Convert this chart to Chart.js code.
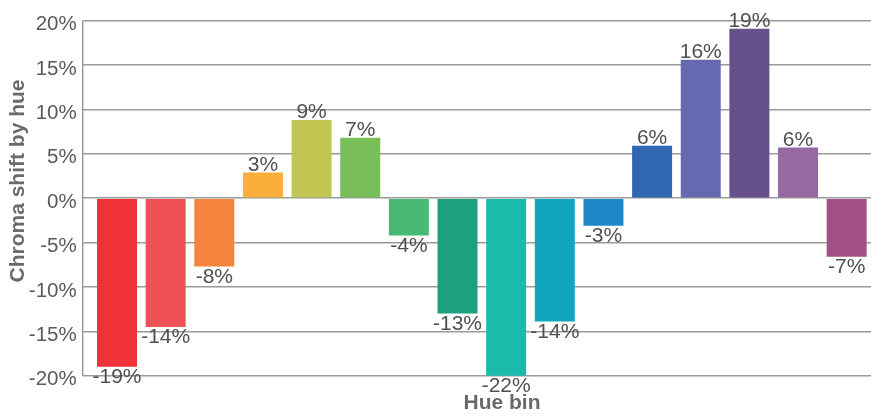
<!DOCTYPE html>
<html>
<head>
<meta charset="utf-8">
<script src="https://cdn.jsdelivr.net/npm/chart.js@4"></script>
<style>
html,body{margin:0;padding:0;background:#fff;}
#wrap{width:872px;height:414px;position:relative;}
</style>
</head>
<body>
<div id="wrap"><canvas id="c"></canvas></div>
<script>
const categories = ["1","2","3","4","5","6","7","8","9","10","11","12","13","14","15","16"];
const chromaShift = [-19.0, -14.5, -7.7, 2.9, 8.8, 6.8, -4.2, -13.0, -21.6, -13.9, -3.1, 5.9, 15.6, 19.1, 5.7, -6.6];
const barColors = ["#EE3237","#EE5156","#F4843C","#FBAE3B","#C1C653","#78BF59","#48BA76","#1E9F80","#1BBBAC","#12A5BE","#1D88C8","#2F67B0","#6669AF","#65528A","#9669A2","#A15183"];
const yTicks = [-20, -15, -10, -5, 0, 5, 10, 15, 20];
const yTitle = "Chroma shift by hue";
const xTitle = "Hue bin";

const FONT = "'Liberation Sans', Arial, sans-serif";

const extras = {
  id: 'extras',
  afterDatasetsDraw(chart) {
    const ctx = chart.ctx;
    const ca = chart.chartArea;
    const meta = chart.getDatasetMeta(0);
    ctx.save();
    // vertical axis line
    ctx.strokeStyle = '#9a9a9a';
    ctx.lineWidth = 1.5;
    ctx.beginPath();
    ctx.moveTo(ca.left - 10, ca.top);
    ctx.lineTo(ca.left - 10, ca.bottom);
    ctx.stroke();
    // data labels
    ctx.font = "21px " + FONT;
    ctx.fillStyle = '#505050';
    ctx.textAlign = 'center';
    meta.data.forEach((bar, i) => {
      const v = chromaShift[i];
      const txt = Math.round(v) + '%';
      let y = Math.max(ca.top, Math.min(ca.bottom, bar.y));
      if (v >= 0) {
        ctx.textBaseline = 'bottom';
        ctx.fillText(txt, bar.x, y + 3);
      } else {
        ctx.textBaseline = 'top';
        ctx.fillText(txt, bar.x, y);
      }
    });
    // axis titles
    ctx.font = "bold 21px " + FONT;
    ctx.fillStyle = '#6a6a6a';
    ctx.textAlign = 'center';
    ctx.textBaseline = 'middle';
    ctx.fillText(xTitle, 502, 403);
    ctx.translate(18, 181);
    ctx.rotate(-Math.PI / 2);
    ctx.fillText(yTitle, 0, 0);
    ctx.restore();
  }
};

new Chart(document.getElementById('c'), {
  type: 'bar',
  data: {
    labels: categories,
    datasets: [{
      data: chromaShift,
      backgroundColor: barColors,
      borderWidth: 0,
      barPercentage: 1,
      categoryPercentage: 0.822
    }]
  },
  options: {
    responsive: true,
    maintainAspectRatio: false,
    animation: false,
    devicePixelRatio: 1,
    layout: { padding: { top: 20.7, right: 1, left: 0, bottom: 0 } },
    plugins: { legend: { display: false }, tooltip: { enabled: false } },
    scales: {
      x: {
        ticks: { display: false },
        grid: { display: false },
        border: { display: false },
        afterFit(scale) { scale.height = 38.3; }
      },
      y: {
        min: -20, max: 20,
        afterBuildTicks(scale) { scale.ticks = yTicks.map(v => ({ value: v })); },
        ticks: {
          padding: 6,
          labelOffset: 4,
          color: '#5a5a5a',
          font: { family: FONT, size: 20.5 },
          callback: v => v + '%'
        },
        grid: { color: '#9a9a9a', lineWidth: 1.5, tickLength: 10, drawTicks: true, tickColor: '#9a9a9a' },
        border: { display: false },
        afterFit(scale) { scale.width = 92.7; }
      }
    }
  },
  plugins: [extras]
});
</script>
</body>
</html>
